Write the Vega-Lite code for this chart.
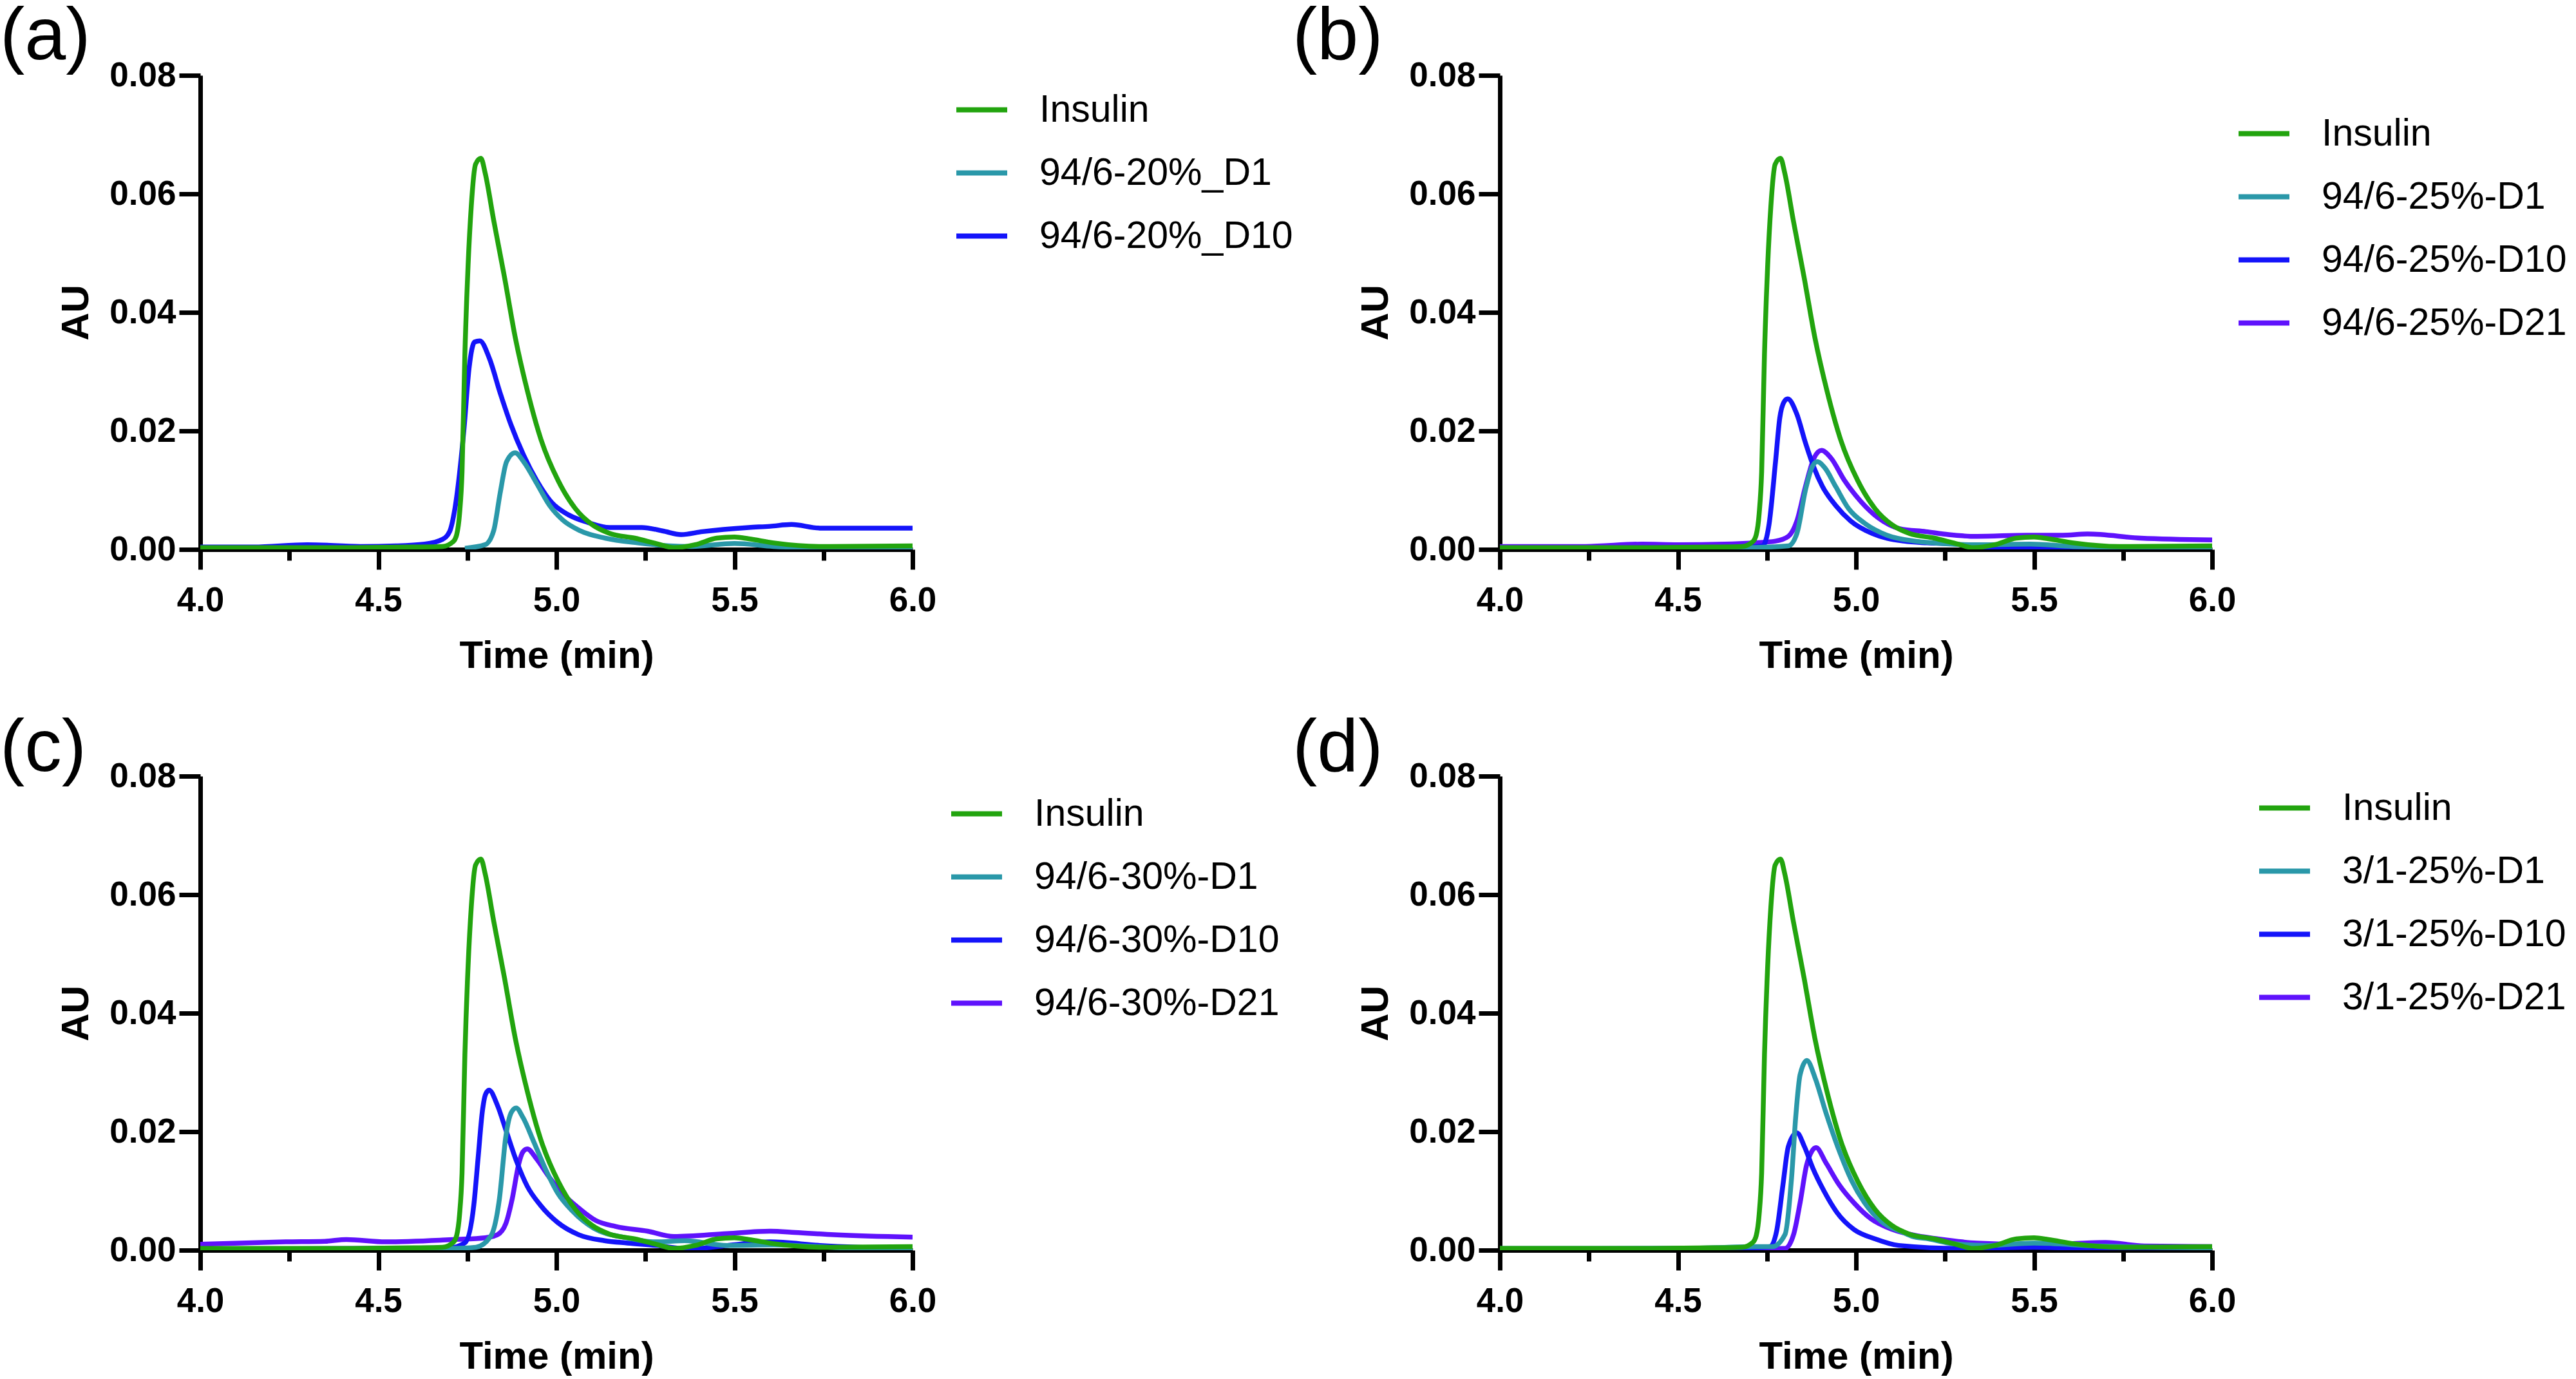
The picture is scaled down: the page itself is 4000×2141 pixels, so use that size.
{
"$schema": "https://vega.github.io/schema/vega-lite/v6.json",
"padding": 0,
"background": "white",
"config": {
 "view": {"stroke": null},
 "font": "Liberation Sans",
 "axis": {"domainColor": "black", "domainWidth": 7, "tickColor": "black", "tickWidth": 7, "labelFont": "Liberation Sans", "labelFontWeight": "bold", "labelFontSize": 53, "labelColor": "black", "titleFont": "Liberation Sans", "titleFontWeight": "bold", "titleFontSize": 60, "titleColor": "black", "grid": false, "labelFlush": false, "labelOverlap": false},
 "legend": {"symbolType": "stroke", "symbolSize": 6241, "symbolStrokeWidth": 8, "labelFont": "Liberation Sans", "labelFontSize": 59, "labelColor": "black", "labelOffset": 46, "rowPadding": 24, "padding": 0, "labelLimit": 1000, "offset": 0},
 "title": {"font": "Liberation Sans", "fontSize": 115, "fontWeight": "normal", "color": "black", "anchor": "start", "frame": "group"},
 "line": {"interpolate": "monotone"}
},
"data": {"values": [
{"panel":"a","series":"94/6-20%_D10","time":4.0,"au":0.0004},
{"panel":"a","series":"94/6-20%_D10","time":4.15,"au":0.0004},
{"panel":"a","series":"94/6-20%_D10","time":4.3,"au":0.0008},
{"panel":"a","series":"94/6-20%_D10","time":4.45,"au":0.0005},
{"panel":"a","series":"94/6-20%_D10","time":4.55,"au":0.0006},
{"panel":"a","series":"94/6-20%_D10","time":4.63,"au":0.0009},
{"panel":"a","series":"94/6-20%_D10","time":4.68,"au":0.0017},
{"panel":"a","series":"94/6-20%_D10","time":4.7,"au":0.003},
{"panel":"a","series":"94/6-20%_D10","time":4.715,"au":0.0069},
{"panel":"a","series":"94/6-20%_D10","time":4.74,"au":0.02},
{"panel":"a","series":"94/6-20%_D10","time":4.755,"au":0.0307},
{"panel":"a","series":"94/6-20%_D10","time":4.77,"au":0.035},
{"panel":"a","series":"94/6-20%_D10","time":4.785,"au":0.0352},
{"panel":"a","series":"94/6-20%_D10","time":4.812,"au":0.0322},
{"panel":"a","series":"94/6-20%_D10","time":4.842,"au":0.0264},
{"panel":"a","series":"94/6-20%_D10","time":4.872,"au":0.0211},
{"panel":"a","series":"94/6-20%_D10","time":4.908,"au":0.0159},
{"panel":"a","series":"94/6-20%_D10","time":4.945,"au":0.0116},
{"panel":"a","series":"94/6-20%_D10","time":4.987,"au":0.0079},
{"panel":"a","series":"94/6-20%_D10","time":5.035,"au":0.0058},
{"panel":"a","series":"94/6-20%_D10","time":5.086,"au":0.0046},
{"panel":"a","series":"94/6-20%_D10","time":5.15,"au":0.0037},
{"panel":"a","series":"94/6-20%_D10","time":5.24,"au":0.0037},
{"panel":"a","series":"94/6-20%_D10","time":5.3,"au":0.0031},
{"panel":"a","series":"94/6-20%_D10","time":5.35,"au":0.0025},
{"panel":"a","series":"94/6-20%_D10","time":5.41,"au":0.003},
{"panel":"a","series":"94/6-20%_D10","time":5.54,"au":0.0037},
{"panel":"a","series":"94/6-20%_D10","time":5.6,"au":0.0039},
{"panel":"a","series":"94/6-20%_D10","time":5.66,"au":0.0042},
{"panel":"a","series":"94/6-20%_D10","time":5.74,"au":0.0036},
{"panel":"a","series":"94/6-20%_D10","time":6.0,"au":0.0036},
{"panel":"a","series":"94/6-20%_D1","time":4.743,"au":0.0002},
{"panel":"a","series":"94/6-20%_D1","time":4.8,"au":0.0008},
{"panel":"a","series":"94/6-20%_D1","time":4.824,"au":0.0032},
{"panel":"a","series":"94/6-20%_D1","time":4.842,"au":0.0095},
{"panel":"a","series":"94/6-20%_D1","time":4.86,"au":0.0148},
{"panel":"a","series":"94/6-20%_D1","time":4.884,"au":0.0163},
{"panel":"a","series":"94/6-20%_D1","time":4.908,"au":0.0148},
{"panel":"a","series":"94/6-20%_D1","time":4.945,"au":0.0111},
{"panel":"a","series":"94/6-20%_D1","time":4.981,"au":0.0074},
{"panel":"a","series":"94/6-20%_D1","time":5.017,"au":0.005},
{"panel":"a","series":"94/6-20%_D1","time":5.065,"au":0.0032},
{"panel":"a","series":"94/6-20%_D1","time":5.137,"au":0.0019},
{"panel":"a","series":"94/6-20%_D1","time":5.228,"au":0.0011},
{"panel":"a","series":"94/6-20%_D1","time":5.318,"au":0.0006},
{"panel":"a","series":"94/6-20%_D1","time":5.38,"au":0.0005},
{"panel":"a","series":"94/6-20%_D1","time":5.5,"au":0.001},
{"panel":"a","series":"94/6-20%_D1","time":5.61,"au":0.0005},
{"panel":"a","series":"94/6-20%_D1","time":5.8,"au":0.0002},
{"panel":"a","series":"94/6-20%_D1","time":6.0,"au":0.0001},
{"panel":"b","series":"94/6-25%-D21","time":4.0,"au":0.0005},
{"panel":"b","series":"94/6-25%-D21","time":4.24,"au":0.0005},
{"panel":"b","series":"94/6-25%-D21","time":4.4,"au":0.0009},
{"panel":"b","series":"94/6-25%-D21","time":4.5,"au":0.0008},
{"panel":"b","series":"94/6-25%-D21","time":4.63,"au":0.0009},
{"panel":"b","series":"94/6-25%-D21","time":4.71,"au":0.0011},
{"panel":"b","series":"94/6-25%-D21","time":4.774,"au":0.0014},
{"panel":"b","series":"94/6-25%-D21","time":4.81,"au":0.0022},
{"panel":"b","series":"94/6-25%-D21","time":4.834,"au":0.0048},
{"panel":"b","series":"94/6-25%-D21","time":4.858,"au":0.0106},
{"panel":"b","series":"94/6-25%-D21","time":4.882,"au":0.0154},
{"panel":"b","series":"94/6-25%-D21","time":4.903,"au":0.0167},
{"panel":"b","series":"94/6-25%-D21","time":4.93,"au":0.0154},
{"panel":"b","series":"94/6-25%-D21","time":4.967,"au":0.0117},
{"panel":"b","series":"94/6-25%-D21","time":5.015,"au":0.008},
{"panel":"b","series":"94/6-25%-D21","time":5.063,"au":0.0053},
{"panel":"b","series":"94/6-25%-D21","time":5.123,"au":0.0035},
{"panel":"b","series":"94/6-25%-D21","time":5.196,"au":0.003},
{"panel":"b","series":"94/6-25%-D21","time":5.26,"au":0.0025},
{"panel":"b","series":"94/6-25%-D21","time":5.34,"au":0.0022},
{"panel":"b","series":"94/6-25%-D21","time":5.48,"au":0.0024},
{"panel":"b","series":"94/6-25%-D21","time":5.58,"au":0.0024},
{"panel":"b","series":"94/6-25%-D21","time":5.65,"au":0.0026},
{"panel":"b","series":"94/6-25%-D21","time":5.8,"au":0.0019},
{"panel":"b","series":"94/6-25%-D21","time":6.0,"au":0.0016},
{"panel":"b","series":"94/6-25%-D10","time":4.0,"au":0.0002},
{"panel":"b","series":"94/6-25%-D10","time":4.5,"au":0.0003},
{"panel":"b","series":"94/6-25%-D10","time":4.7,"au":0.0004},
{"panel":"b","series":"94/6-25%-D10","time":4.738,"au":0.0006},
{"panel":"b","series":"94/6-25%-D10","time":4.756,"au":0.0043},
{"panel":"b","series":"94/6-25%-D10","time":4.774,"au":0.0148},
{"panel":"b","series":"94/6-25%-D10","time":4.786,"au":0.0222},
{"panel":"b","series":"94/6-25%-D10","time":4.798,"au":0.0249},
{"panel":"b","series":"94/6-25%-D10","time":4.808,"au":0.0254},
{"panel":"b","series":"94/6-25%-D10","time":4.834,"au":0.0228},
{"panel":"b","series":"94/6-25%-D10","time":4.858,"au":0.018},
{"panel":"b","series":"94/6-25%-D10","time":4.882,"au":0.0138},
{"panel":"b","series":"94/6-25%-D10","time":4.906,"au":0.0106},
{"panel":"b","series":"94/6-25%-D10","time":4.943,"au":0.0074},
{"panel":"b","series":"94/6-25%-D10","time":4.985,"au":0.0048},
{"panel":"b","series":"94/6-25%-D10","time":5.045,"au":0.0027},
{"panel":"b","series":"94/6-25%-D10","time":5.135,"au":0.0014},
{"panel":"b","series":"94/6-25%-D10","time":5.2,"au":0.0011},
{"panel":"b","series":"94/6-25%-D10","time":5.28,"au":0.0009},
{"panel":"b","series":"94/6-25%-D10","time":5.36,"au":0.0002},
{"panel":"b","series":"94/6-25%-D10","time":5.48,"au":0.0004},
{"panel":"b","series":"94/6-25%-D10","time":5.67,"au":0.0003},
{"panel":"b","series":"94/6-25%-D10","time":6.0,"au":0.0001},
{"panel":"b","series":"94/6-25%-D1","time":4.0,"au":0.0001},
{"panel":"b","series":"94/6-25%-D1","time":4.5,"au":0.0002},
{"panel":"b","series":"94/6-25%-D1","time":4.7,"au":0.0003},
{"panel":"b","series":"94/6-25%-D1","time":4.81,"au":0.0006},
{"panel":"b","series":"94/6-25%-D1","time":4.834,"au":0.0027},
{"panel":"b","series":"94/6-25%-D1","time":4.858,"au":0.01},
{"panel":"b","series":"94/6-25%-D1","time":4.876,"au":0.0138},
{"panel":"b","series":"94/6-25%-D1","time":4.891,"au":0.0148},
{"panel":"b","series":"94/6-25%-D1","time":4.912,"au":0.0138},
{"panel":"b","series":"94/6-25%-D1","time":4.943,"au":0.0106},
{"panel":"b","series":"94/6-25%-D1","time":4.979,"au":0.0069},
{"panel":"b","series":"94/6-25%-D1","time":5.027,"au":0.0043},
{"panel":"b","series":"94/6-25%-D1","time":5.087,"au":0.0024},
{"panel":"b","series":"94/6-25%-D1","time":5.166,"au":0.0014},
{"panel":"b","series":"94/6-25%-D1","time":5.22,"au":0.0011},
{"panel":"b","series":"94/6-25%-D1","time":5.316,"au":0.0008},
{"panel":"b","series":"94/6-25%-D1","time":5.36,"au":0.0008},
{"panel":"b","series":"94/6-25%-D1","time":5.49,"au":0.0009},
{"panel":"b","series":"94/6-25%-D1","time":5.61,"au":0.0005},
{"panel":"b","series":"94/6-25%-D1","time":6.0,"au":0.0002},
{"panel":"c","series":"94/6-30%-D21","time":4.0,"au":0.001},
{"panel":"c","series":"94/6-30%-D21","time":4.24,"au":0.0014},
{"panel":"c","series":"94/6-30%-D21","time":4.35,"au":0.0015},
{"panel":"c","series":"94/6-30%-D21","time":4.41,"au":0.0018},
{"panel":"c","series":"94/6-30%-D21","time":4.52,"au":0.0014},
{"panel":"c","series":"94/6-30%-D21","time":4.68,"au":0.0017},
{"panel":"c","series":"94/6-30%-D21","time":4.714,"au":0.0018},
{"panel":"c","series":"94/6-30%-D21","time":4.8,"au":0.0021},
{"panel":"c","series":"94/6-30%-D21","time":4.834,"au":0.0026},
{"panel":"c","series":"94/6-30%-D21","time":4.858,"au":0.0045},
{"panel":"c","series":"94/6-30%-D21","time":4.876,"au":0.0087},
{"panel":"c","series":"94/6-30%-D21","time":4.894,"au":0.0145},
{"panel":"c","series":"94/6-30%-D21","time":4.906,"au":0.0166},
{"panel":"c","series":"94/6-30%-D21","time":4.918,"au":0.0171},
{"panel":"c","series":"94/6-30%-D21","time":4.943,"au":0.0155},
{"panel":"c","series":"94/6-30%-D21","time":4.979,"au":0.0124},
{"panel":"c","series":"94/6-30%-D21","time":5.015,"au":0.0097},
{"panel":"c","series":"94/6-30%-D21","time":5.063,"au":0.0071},
{"panel":"c","series":"94/6-30%-D21","time":5.111,"au":0.005},
{"panel":"c","series":"94/6-30%-D21","time":5.166,"au":0.004},
{"panel":"c","series":"94/6-30%-D21","time":5.256,"au":0.0032},
{"panel":"c","series":"94/6-30%-D21","time":5.33,"au":0.0023},
{"panel":"c","series":"94/6-30%-D21","time":5.48,"au":0.0028},
{"panel":"c","series":"94/6-30%-D21","time":5.6,"au":0.0032},
{"panel":"c","series":"94/6-30%-D21","time":5.67,"au":0.003},
{"panel":"c","series":"94/6-30%-D21","time":5.78,"au":0.0026},
{"panel":"c","series":"94/6-30%-D21","time":6.0,"au":0.0022},
{"panel":"c","series":"94/6-30%-D10","time":4.0,"au":0.0002},
{"panel":"c","series":"94/6-30%-D10","time":4.5,"au":0.0003},
{"panel":"c","series":"94/6-30%-D10","time":4.7,"au":0.0004},
{"panel":"c","series":"94/6-30%-D10","time":4.744,"au":0.0013},
{"panel":"c","series":"94/6-30%-D10","time":4.768,"au":0.0076},
{"panel":"c","series":"94/6-30%-D10","time":4.78,"au":0.0155},
{"panel":"c","series":"94/6-30%-D10","time":4.792,"au":0.0234},
{"panel":"c","series":"94/6-30%-D10","time":4.801,"au":0.0263},
{"panel":"c","series":"94/6-30%-D10","time":4.811,"au":0.027},
{"panel":"c","series":"94/6-30%-D10","time":4.834,"au":0.0245},
{"panel":"c","series":"94/6-30%-D10","time":4.858,"au":0.0203},
{"panel":"c","series":"94/6-30%-D10","time":4.888,"au":0.015},
{"panel":"c","series":"94/6-30%-D10","time":4.918,"au":0.0108},
{"panel":"c","series":"94/6-30%-D10","time":4.955,"au":0.0076},
{"panel":"c","series":"94/6-30%-D10","time":5.003,"au":0.0047},
{"panel":"c","series":"94/6-30%-D10","time":5.063,"au":0.0026},
{"panel":"c","series":"94/6-30%-D10","time":5.135,"au":0.0016},
{"panel":"c","series":"94/6-30%-D10","time":5.2,"au":0.0012},
{"panel":"c","series":"94/6-30%-D10","time":5.28,"au":0.0008},
{"panel":"c","series":"94/6-30%-D10","time":5.37,"au":0.0002},
{"panel":"c","series":"94/6-30%-D10","time":5.48,"au":0.0008},
{"panel":"c","series":"94/6-30%-D10","time":5.6,"au":0.0014},
{"panel":"c","series":"94/6-30%-D10","time":5.74,"au":0.0008},
{"panel":"c","series":"94/6-30%-D10","time":6.0,"au":0.0002},
{"panel":"c","series":"94/6-30%-D1","time":4.0,"au":0.0001},
{"panel":"c","series":"94/6-30%-D1","time":4.5,"au":0.0002},
{"panel":"c","series":"94/6-30%-D1","time":4.7,"au":0.0003},
{"panel":"c","series":"94/6-30%-D1","time":4.774,"au":0.0005},
{"panel":"c","series":"94/6-30%-D1","time":4.816,"au":0.0024},
{"panel":"c","series":"94/6-30%-D1","time":4.84,"au":0.0087},
{"panel":"c","series":"94/6-30%-D1","time":4.858,"au":0.0192},
{"panel":"c","series":"94/6-30%-D1","time":4.873,"au":0.0232},
{"panel":"c","series":"94/6-30%-D1","time":4.887,"au":0.024},
{"panel":"c","series":"94/6-30%-D1","time":4.906,"au":0.0224},
{"panel":"c","series":"94/6-30%-D1","time":4.937,"au":0.0182},
{"panel":"c","series":"94/6-30%-D1","time":4.967,"au":0.014},
{"panel":"c","series":"94/6-30%-D1","time":5.003,"au":0.0097},
{"panel":"c","series":"94/6-30%-D1","time":5.045,"au":0.0066},
{"panel":"c","series":"94/6-30%-D1","time":5.105,"au":0.0037},
{"panel":"c","series":"94/6-30%-D1","time":5.196,"au":0.0021},
{"panel":"c","series":"94/6-30%-D1","time":5.28,"au":0.0014},
{"panel":"c","series":"94/6-30%-D1","time":5.36,"au":0.0016},
{"panel":"c","series":"94/6-30%-D1","time":5.48,"au":0.0008},
{"panel":"c","series":"94/6-30%-D1","time":5.61,"au":0.0009},
{"panel":"c","series":"94/6-30%-D1","time":5.8,"au":0.0004},
{"panel":"c","series":"94/6-30%-D1","time":6.0,"au":0.0002},
{"panel":"d","series":"3/1-25%-D21","time":4.0,"au":0.0001},
{"panel":"d","series":"3/1-25%-D21","time":4.5,"au":0.0002},
{"panel":"d","series":"3/1-25%-D21","time":4.7,"au":0.0002},
{"panel":"d","series":"3/1-25%-D21","time":4.801,"au":0.0003},
{"panel":"d","series":"3/1-25%-D21","time":4.825,"au":0.0027},
{"panel":"d","series":"3/1-25%-D21","time":4.843,"au":0.008},
{"panel":"d","series":"3/1-25%-D21","time":4.861,"au":0.0143},
{"panel":"d","series":"3/1-25%-D21","time":4.876,"au":0.0167},
{"panel":"d","series":"3/1-25%-D21","time":4.888,"au":0.0173},
{"panel":"d","series":"3/1-25%-D21","time":4.915,"au":0.0148},
{"panel":"d","series":"3/1-25%-D21","time":4.952,"au":0.0111},
{"panel":"d","series":"3/1-25%-D21","time":4.994,"au":0.008},
{"panel":"d","series":"3/1-25%-D21","time":5.042,"au":0.0053},
{"panel":"d","series":"3/1-25%-D21","time":5.102,"au":0.0035},
{"panel":"d","series":"3/1-25%-D21","time":5.175,"au":0.0024},
{"panel":"d","series":"3/1-25%-D21","time":5.22,"au":0.002},
{"panel":"d","series":"3/1-25%-D21","time":5.34,"au":0.0012},
{"panel":"d","series":"3/1-25%-D21","time":5.48,"au":0.001},
{"panel":"d","series":"3/1-25%-D21","time":5.6,"au":0.0011},
{"panel":"d","series":"3/1-25%-D21","time":5.7,"au":0.0013},
{"panel":"d","series":"3/1-25%-D21","time":5.81,"au":0.0007},
{"panel":"d","series":"3/1-25%-D21","time":6.0,"au":0.0006},
{"panel":"d","series":"3/1-25%-D10","time":4.0,"au":0.0002},
{"panel":"d","series":"3/1-25%-D10","time":4.5,"au":0.0003},
{"panel":"d","series":"3/1-25%-D10","time":4.7,"au":0.0004},
{"panel":"d","series":"3/1-25%-D10","time":4.759,"au":0.0006},
{"panel":"d","series":"3/1-25%-D10","time":4.777,"au":0.0032},
{"panel":"d","series":"3/1-25%-D10","time":4.795,"au":0.0111},
{"panel":"d","series":"3/1-25%-D10","time":4.81,"au":0.0175},
{"panel":"d","series":"3/1-25%-D10","time":4.834,"au":0.0198},
{"panel":"d","series":"3/1-25%-D10","time":4.855,"au":0.0175},
{"panel":"d","series":"3/1-25%-D10","time":4.879,"au":0.0138},
{"panel":"d","series":"3/1-25%-D10","time":4.909,"au":0.0101},
{"panel":"d","series":"3/1-25%-D10","time":4.946,"au":0.0064},
{"panel":"d","series":"3/1-25%-D10","time":4.994,"au":0.0035},
{"panel":"d","series":"3/1-25%-D10","time":5.054,"au":0.0019},
{"panel":"d","series":"3/1-25%-D10","time":5.12,"au":0.0008},
{"panel":"d","series":"3/1-25%-D10","time":5.29,"au":0.0003},
{"panel":"d","series":"3/1-25%-D10","time":5.5,"au":0.0005},
{"panel":"d","series":"3/1-25%-D10","time":5.68,"au":0.0002},
{"panel":"d","series":"3/1-25%-D10","time":6.0,"au":0.0001},
{"panel":"d","series":"3/1-25%-D1","time":4.0,"au":0.0003},
{"panel":"d","series":"3/1-25%-D1","time":4.5,"au":0.0003},
{"panel":"d","series":"3/1-25%-D1","time":4.64,"au":0.0005},
{"panel":"d","series":"3/1-25%-D1","time":4.72,"au":0.0006},
{"panel":"d","series":"3/1-25%-D1","time":4.765,"au":0.0006},
{"panel":"d","series":"3/1-25%-D1","time":4.801,"au":0.0027},
{"panel":"d","series":"3/1-25%-D1","time":4.819,"au":0.0122},
{"panel":"d","series":"3/1-25%-D1","time":4.831,"au":0.0227},
{"panel":"d","series":"3/1-25%-D1","time":4.843,"au":0.0296},
{"panel":"d","series":"3/1-25%-D1","time":4.862,"au":0.032},
{"panel":"d","series":"3/1-25%-D1","time":4.885,"au":0.0291},
{"panel":"d","series":"3/1-25%-D1","time":4.915,"au":0.0233},
{"panel":"d","series":"3/1-25%-D1","time":4.952,"au":0.0169},
{"panel":"d","series":"3/1-25%-D1","time":4.988,"au":0.0117},
{"panel":"d","series":"3/1-25%-D1","time":5.024,"au":0.008},
{"panel":"d","series":"3/1-25%-D1","time":5.072,"au":0.0048},
{"panel":"d","series":"3/1-25%-D1","time":5.132,"au":0.003},
{"panel":"d","series":"3/1-25%-D1","time":5.16,"au":0.0023},
{"panel":"d","series":"3/1-25%-D1","time":5.205,"au":0.0019},
{"panel":"d","series":"3/1-25%-D1","time":5.26,"au":0.0012},
{"panel":"d","series":"3/1-25%-D1","time":5.37,"au":0.0008},
{"panel":"d","series":"3/1-25%-D1","time":5.5,"au":0.0012},
{"panel":"d","series":"3/1-25%-D1","time":5.68,"au":0.0007},
{"panel":"d","series":"3/1-25%-D1","time":6.0,"au":0.0004},
{"panel":"all","series":"Insulin","time":4.0,"au":0.0003},
{"panel":"all","series":"Insulin","time":4.2,"au":0.0003},
{"panel":"all","series":"Insulin","time":4.4,"au":0.0003},
{"panel":"all","series":"Insulin","time":4.6,"au":0.0004},
{"panel":"all","series":"Insulin","time":4.68,"au":0.0005},
{"panel":"all","series":"Insulin","time":4.71,"au":0.0013},
{"panel":"all","series":"Insulin","time":4.72,"au":0.0025},
{"panel":"all","series":"Insulin","time":4.728,"au":0.006},
{"panel":"all","series":"Insulin","time":4.735,"au":0.013},
{"panel":"all","series":"Insulin","time":4.743,"au":0.033},
{"panel":"all","series":"Insulin","time":4.752,"au":0.048},
{"panel":"all","series":"Insulin","time":4.761,"au":0.058},
{"panel":"all","series":"Insulin","time":4.773,"au":0.065},
{"panel":"all","series":"Insulin","time":4.788,"au":0.066},
{"panel":"all","series":"Insulin","time":4.8,"au":0.0635},
{"panel":"all","series":"Insulin","time":4.824,"au":0.0555},
{"panel":"all","series":"Insulin","time":4.854,"au":0.046},
{"panel":"all","series":"Insulin","time":4.884,"au":0.0359},
{"panel":"all","series":"Insulin","time":4.92,"au":0.0264},
{"panel":"all","series":"Insulin","time":4.957,"au":0.0185},
{"panel":"all","series":"Insulin","time":5.005,"au":0.0116},
{"panel":"all","series":"Insulin","time":5.053,"au":0.0069},
{"panel":"all","series":"Insulin","time":5.1,"au":0.0042},
{"panel":"all","series":"Insulin","time":5.15,"au":0.0027},
{"panel":"all","series":"Insulin","time":5.22,"au":0.0019},
{"panel":"all","series":"Insulin","time":5.28,"au":0.001},
{"panel":"all","series":"Insulin","time":5.33,"au":0.0003},
{"panel":"all","series":"Insulin","time":5.39,"au":0.0008},
{"panel":"all","series":"Insulin","time":5.45,"au":0.0019},
{"panel":"all","series":"Insulin","time":5.5,"au":0.0021},
{"panel":"all","series":"Insulin","time":5.54,"au":0.0018},
{"panel":"all","series":"Insulin","time":5.61,"au":0.0011},
{"panel":"all","series":"Insulin","time":5.74,"au":0.0005},
{"panel":"all","series":"Insulin","time":6.0,"au":0.0006}
]},
"columns": 2,
"spacing": {"row": 352, "column": 912},
"bounds": "flush",
"resolve": {"scale": {"color": "independent"}, "legend": {"color": "independent"}},
"concat": [
 {
  "title": {"text": "(a)", "dx": -311, "dy": 25, "offset": 0},
  "width": 1106, "height": 736,
  "transform": [{"filter": {"field": "panel", "oneOf": ["a", "all"]}}],
  "mark": {"type": "line", "strokeWidth": 7.5, "clip": true},
  "encoding": {
   "x": {"field": "time", "type": "quantitative", "scale": {"domain": [4, 6], "nice": false, "zero": false},
    "axis": {"title": "Time (min)", "values": [4, 4.25, 4.5, 4.75, 5, 5.25, 5.5, 5.75, 6], "labelExpr": "datum.value % 0.5 === 0 ? format(datum.value, '.1f') : ''", "tickSize": {"condition": {"test": "datum.value % 0.5 !== 0", "value": 17}, "value": 31}, "labelPadding": 22, "titlePadding": 30}},
   "y": {"field": "au", "type": "quantitative", "scale": {"domain": [0, 0.08], "nice": false},
    "axis": {"title": "AU", "values": [0, 0.02, 0.04, 0.06, 0.08], "format": ".2f", "tickSize": 33, "labelPadding": 5, "titlePadding": 20}},
   "color": {"field": "series", "type": "nominal",
    "scale": {"domain": ["Insulin", "94/6-20%_D1", "94/6-20%_D10"], "range": ["#22a40e", "#2a98a9", "#1414fa"]},
    "legend": {"orient": "none", "legendX": 1170, "legendY": 10, "title": null}}
  }
 },
 {
  "title": {"text": "(b)", "dx": -322, "dy": 25, "offset": 0},
  "width": 1106, "height": 736,
  "transform": [{"filter": {"field": "panel", "oneOf": ["b", "all"]}}],
  "mark": {"type": "line", "strokeWidth": 7.5, "clip": true},
  "encoding": {
   "x": {"field": "time", "type": "quantitative", "scale": {"domain": [4, 6], "nice": false, "zero": false},
    "axis": {"title": "Time (min)", "values": [4, 4.25, 4.5, 4.75, 5, 5.25, 5.5, 5.75, 6], "labelExpr": "datum.value % 0.5 === 0 ? format(datum.value, '.1f') : ''", "tickSize": {"condition": {"test": "datum.value % 0.5 !== 0", "value": 17}, "value": 31}, "labelPadding": 22, "titlePadding": 30}},
   "y": {"field": "au", "type": "quantitative", "scale": {"domain": [0, 0.08], "nice": false},
    "axis": {"title": "AU", "values": [0, 0.02, 0.04, 0.06, 0.08], "format": ".2f", "tickSize": 33, "labelPadding": 5, "titlePadding": 20}},
   "color": {"field": "series", "type": "nominal",
    "scale": {"domain": ["Insulin", "94/6-25%-D1", "94/6-25%-D10", "94/6-25%-D21"], "range": ["#22a40e", "#2a98a9", "#1414fa", "#5f12fc"]},
    "legend": {"orient": "none", "legendX": 1143, "legendY": 47, "title": null}}
  }
 },
 {
  "title": {"text": "(c)", "dx": -311, "dy": 42, "offset": 0},
  "width": 1106, "height": 736,
  "transform": [{"filter": {"field": "panel", "oneOf": ["c", "all"]}}],
  "mark": {"type": "line", "strokeWidth": 7.5, "clip": true},
  "encoding": {
   "x": {"field": "time", "type": "quantitative", "scale": {"domain": [4, 6], "nice": false, "zero": false},
    "axis": {"title": "Time (min)", "values": [4, 4.25, 4.5, 4.75, 5, 5.25, 5.5, 5.75, 6], "labelExpr": "datum.value % 0.5 === 0 ? format(datum.value, '.1f') : ''", "tickSize": {"condition": {"test": "datum.value % 0.5 !== 0", "value": 17}, "value": 31}, "labelPadding": 22, "titlePadding": 30}},
   "y": {"field": "au", "type": "quantitative", "scale": {"domain": [0, 0.08], "nice": false},
    "axis": {"title": "AU", "values": [0, 0.02, 0.04, 0.06, 0.08], "format": ".2f", "tickSize": 33, "labelPadding": 5, "titlePadding": 20}},
   "color": {"field": "series", "type": "nominal",
    "scale": {"domain": ["Insulin", "94/6-30%-D1", "94/6-30%-D10", "94/6-30%-D21"], "range": ["#22a40e", "#2a98a9", "#1414fa", "#5f12fc"]},
    "legend": {"orient": "none", "legendX": 1162, "legendY": 15, "title": null}}
  }
 },
 {
  "title": {"text": "(d)", "dx": -322, "dy": 42, "offset": 0},
  "width": 1106, "height": 736,
  "transform": [{"filter": {"field": "panel", "oneOf": ["d", "all"]}}],
  "mark": {"type": "line", "strokeWidth": 7.5, "clip": true},
  "encoding": {
   "x": {"field": "time", "type": "quantitative", "scale": {"domain": [4, 6], "nice": false, "zero": false},
    "axis": {"title": "Time (min)", "values": [4, 4.25, 4.5, 4.75, 5, 5.25, 5.5, 5.75, 6], "labelExpr": "datum.value % 0.5 === 0 ? format(datum.value, '.1f') : ''", "tickSize": {"condition": {"test": "datum.value % 0.5 !== 0", "value": 17}, "value": 31}, "labelPadding": 22, "titlePadding": 30}},
   "y": {"field": "au", "type": "quantitative", "scale": {"domain": [0, 0.08], "nice": false},
    "axis": {"title": "AU", "values": [0, 0.02, 0.04, 0.06, 0.08], "format": ".2f", "tickSize": 33, "labelPadding": 5, "titlePadding": 20}},
   "color": {"field": "series", "type": "nominal",
    "scale": {"domain": ["Insulin", "3/1-25%-D1", "3/1-25%-D10", "3/1-25%-D21"], "range": ["#22a40e", "#2a98a9", "#1414fa", "#5f12fc"]},
    "legend": {"orient": "none", "legendX": 1175, "legendY": 6, "title": null}}
  }
 }
]
}
